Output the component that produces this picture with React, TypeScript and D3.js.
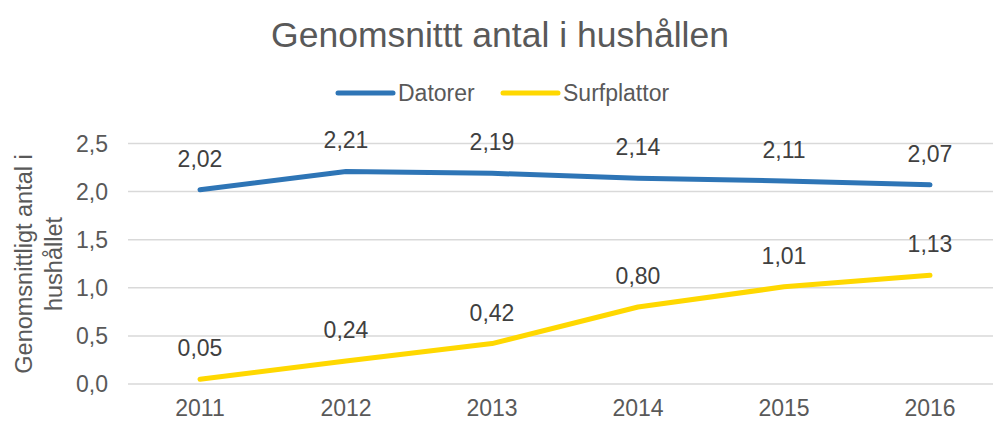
import React from "react";
import * as d3 from "d3";

const years = ["2011", "2012", "2013", "2014", "2015", "2016"];
const datorer = [2.02, 2.21, 2.19, 2.14, 2.11, 2.07];
const surfplattor = [0.05, 0.24, 0.42, 0.8, 1.01, 1.13];
const yTicks = [0, 0.5, 1, 1.5, 2, 2.5];
const seriesNames = ["Datorer", "Surfplattor"];
const seriesColors = ["#2E75B6", "#FFD800"];

const W = 993;
const H = 421;
const FONT = "'Liberation Sans', Arial, sans-serif";

export default function App() {
  const x = d3.scaleBand<string>().domain(years).range([127, 1003]);
  const y = d3.scaleLinear().domain([0, 2.5]).range([384, 143.5]);
  const fmt = (v: number) => v.toFixed(2).replace(".", ",");
  const fmtTick = (v: number) => v.toFixed(1).replace(".", ",");
  const cx = (d: string) => (x(d) as number) + x.bandwidth() / 2;
  const line = d3
    .line<number>()
    .x((_, i) => cx(years[i]))
    .y((v) => y(v));
  const series = [datorer, surfplattor];
  const legendX = [338, 503];

  return (
    <svg
      width={W}
      height={H}
      style={{ position: "absolute", left: 0, top: 0, fontFamily: FONT }}
    >
      <rect width={W} height={H} fill="#fff" />
      <text x={500} y={47} textAnchor="middle" fontSize={35.5} fill="#595959">
        Genomsnittt antal i hushållen
      </text>
      {seriesNames.map((n, i) => (
        <g key={n}>
          <line
            x1={legendX[i]}
            x2={legendX[i] + 55}
            y1={93}
            y2={93}
            stroke={seriesColors[i]}
            strokeWidth={5}
            strokeLinecap="round"
          />
          <text x={legendX[i] + 60} y={101} fontSize={23} fill="#595959">
            {n}
          </text>
        </g>
      ))}
      {yTicks.map((t) => (
        <g key={t}>
          <line x1={128} x2={W} y1={y(t)} y2={y(t)} stroke="#D9D9D9" strokeWidth={1.5} />
          <text
            x={108}
            y={y(t)}
            dy="0.35em"
            textAnchor="end"
            fontSize={23}
            fill="#595959"
          >
            {fmtTick(t)}
          </text>
        </g>
      ))}
      {years.map((yr) => (
        <text key={yr} x={cx(yr)} y={416} textAnchor="middle" fontSize={23} fill="#595959">
          {yr}
        </text>
      ))}
      <g transform="translate(32,264) rotate(-90)">
        <text x={0} y={0} textAnchor="middle" fontSize={23.5} fill="#595959">
          Genomsnittligt antal i
        </text>
        <text x={0} y={30} textAnchor="middle" fontSize={23.5} fill="#595959">
          hushållet
        </text>
      </g>
      {series.map((s, si) => (
        <g key={si}>
          <path
            d={line(s) as string}
            fill="none"
            stroke={seriesColors[si]}
            strokeWidth={5}
            strokeLinecap="round"
            strokeLinejoin="round"
          />
          {s.map((v, i) => (
            <text
              key={i}
              x={cx(years[i])}
              y={y(v) - 23}
              textAnchor="middle"
              fontSize={23}
              fill="#404040"
            >
              {fmt(v)}
            </text>
          ))}
        </g>
      ))}
    </svg>
  );
}
